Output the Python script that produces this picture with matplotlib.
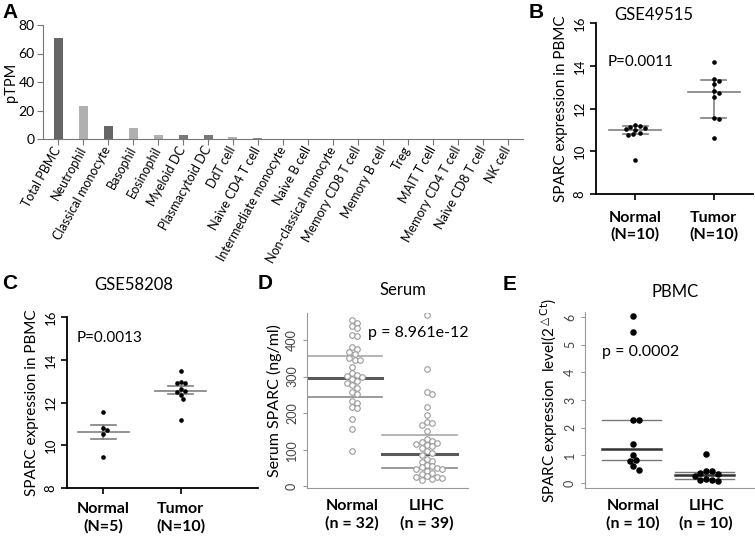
import numpy as np
import matplotlib
matplotlib.use('Agg')
import matplotlib.pyplot as plt

plt.rcParams['font.family'] = ['Lato', 'DejaVu Sans']

W, H = 755, 540

# ---------------- data ---------------- #
# A: SPARC expression in blood cell types (pTPM)
cells = ['Total PBMC', 'Neutrophil', 'Classical monocyte', 'Basophil', 'Eosinophil',
         'Myeloid DC', 'Plasmacytoid DC', 'DdT cell', 'Naive CD4 T cell',
         'Intermediate monocyte', 'Naive B cell', 'Non-classical monocyte',
         'Memory CD8 T cell', 'Memory B cell', 'Treg', 'MAIT T cell',
         'Memory CD4 T cell', 'Naive CD8 T cell', 'NK cell']
ptpm = [71, 23, 9, 8, 3, 3, 2.5, 1.5, 0.4, 0.3, 0.2, 0.2, 0.15, 0.1, 0.1, 0.1, 0.1, 0.1, 0.1]
shade = ['#666666', '#b0b0b0', '#666666', '#b0b0b0', '#b0b0b0', '#777777', '#777777',
         '#b0b0b0', '#888888', '#aaaaaa', '#aaaaaa', '#aaaaaa', '#aaaaaa', '#aaaaaa',
         '#aaaaaa', '#aaaaaa', '#aaaaaa', '#aaaaaa', '#aaaaaa']

# B: GSE49515 (median, IQR)
b_groups = ['Normal\n(N=10)', 'Tumor\n(N=10)']
b_normal = [11.0, 11.18, 11.08, 11.13, 11.22, 11.04, 10.8, 10.76, 10.85, 9.6]
b_tumor = [14.17, 13.37, 13.28, 13.14, 12.81, 12.72, 12.53, 11.55, 11.5, 10.62]
b_mid = [11.0, 12.77]
b_lo = [10.8, 11.55]
b_hi = [11.18, 13.33]

# C: GSE58208 (mean, SEM)
c_groups = ['Normal\n(N=5)', 'Tumor\n(N=10)']
c_normal = [11.55, 10.71, 10.8, 10.52, 9.45]
c_tumor = [13.47, 12.9, 12.9, 12.95, 12.63, 12.49, 12.53, 12.35, 12.16, 11.18]
c_mid = [10.62, 12.55]
c_lo = [10.29, 12.38]
c_hi = [10.94, 12.76]

# D: serum SPARC (ng/ml)
d_groups = ['Normal\n(n = 32)', 'LIHC\n(n = 39)']
d_normal = [455, 446, 438, 432, 414, 412, 380, 376, 368, 362, 352, 346, 344, 325, 310, 305,
            302, 298, 292, 288, 282, 276, 268, 258, 252, 232, 228, 218, 214, 183, 157, 97]
d_lihc = [468, 320, 257, 252, 218, 195, 176, 172, 168, 150, 128, 124, 120, 118, 115, 112,
          110, 104, 95, 90, 86, 74, 70, 66, 58, 55, 52, 50, 48, 46, 42, 35, 32, 28, 26,
          24, 22, 20, 18]
d_mid = [295, 87]
d_lo = [245, 49]
d_hi = [356, 140]

# E: PBMC qPCR
e_groups = ['Normal\n(n = 10)', 'LIHC\n(n = 10)']
e_normal = [6.05, 5.45, 2.28, 2.28, 1.41, 1.01, 0.82, 0.8, 0.62, 0.48]
e_lihc = [1.05, 0.45, 0.42, 0.38, 0.32, 0.25, 0.15, 0.12, 0.1, 0.08]
e_mid = [1.22, 0.29]
e_lo = [0.83, 0.14]
e_hi = [2.28, 0.41]


def px_axes(fig, left, top, right, bottom):
    return fig.add_axes([left / W, 1 - bottom / H, (right - left) / W, (bottom - top) / H])


def swarm(ax, x0, vals, d):
    '''simple beeswarm: returns x data coords so markers of diameter d px do not overlap'''
    vals = np.asarray(vals, dtype=float)
    pts = ax.transData.transform(np.column_stack([np.full(len(vals), x0), vals]))
    ypx = pts[:, 1]
    placed = []
    off = np.zeros(len(vals))
    for i in np.argsort(-ypx):
        best = 0.0
        for k in range(60):
            cands = [0.0] if k == 0 else [k * d * 0.5, -k * d * 0.5]
            hit = None
            for c in cands:
                if all((c - px) ** 2 + (ypx[i] - py) ** 2 >= (0.97 * d) ** 2 for px, py in placed):
                    hit = c
                    break
            if hit is not None:
                best = hit
                break
        placed.append((best, ypx[i]))
        off[i] = best
    return ax.transData.inverted().transform(np.column_stack([pts[:, 0] + off, ypx]))[:, 0]


def rot_yticks(ax, size, color):
    ax.tick_params(axis='y', labelsize=size, labelcolor=color)
    for lab in ax.get_yticklabels():
        lab.set_rotation(90)
        lab.set_va('center')
        lab.set_ha('right')


def group_labels(ax, groups, pad):
    ax.set_xticks([0, 1])
    ax.set_xticklabels(groups, fontsize=11.5, fontweight='bold', linespacing=1.25)
    ax.tick_params(axis='x', pad=pad)


fig = plt.figure(figsize=(W / 100, H / 100), dpi=100)

# ---------------- A ---------------- #
axA = px_axes(fig, 43, 25, 523, 139)
x = np.arange(len(cells))
axA.bar(x, ptpm, width=0.36, color=shade)
axA.set_xlim(-0.6, 18.6)
axA.set_ylim(0, 80)
axA.set_yticks([0, 20, 40, 60, 80])
axA.set_xticks(x)
axA.set_xticklabels(cells, rotation=61, ha='right', va='center', rotation_mode='anchor', fontsize=9)
axA.tick_params(axis='y', labelsize=10, length=4, color='#777777', pad=2)
axA.tick_params(axis='x', length=4, color='#777777', pad=2)
axA.set_ylabel('pTPM', fontsize=10.5)
axA.yaxis.set_label_coords(-0.052, 0.5)
for s in ['top', 'right']:
    axA.spines[s].set_visible(False)
for s in ['left', 'bottom']:
    axA.spines[s].set_color('#777777')

# ---------------- B & C (GraphPad style) ---------------- #
def dot_panel(ax, groups, series, mid, lo, hi, title, ptxt, tpos, ppos, ylab):
    ax.set_xlim(-0.5, 1.5)
    ax.set_ylim(8, 16)
    ax.set_yticks([8, 10, 12, 14, 16])
    group_labels(ax, groups, 8)
    for s in ['top', 'right']:
        ax.spines[s].set_visible(False)
    for s in ['left', 'bottom']:
        ax.spines[s].set_linewidth(1.3)
    ax.tick_params(axis='x', length=4, width=1.2)
    ax.tick_params(axis='y', length=4, width=1.2)
    rot_yticks(ax, 9.5, 'black')
    ax.set_ylabel(ylab, fontsize=11, labelpad=4)
    for i, vals in enumerate(series):
        ax.plot([i - 0.33, i + 0.33], [mid[i], mid[i]], color='#808080', lw=1.2, zorder=1)
        ax.plot([i - 0.16, i + 0.16], [lo[i], lo[i]], color='#808080', lw=1.2, zorder=1)
        ax.plot([i - 0.16, i + 0.16], [hi[i], hi[i]], color='#808080', lw=1.2, zorder=1)
        ax.plot([i, i], [lo[i], hi[i]], color='#808080', lw=1.2, zorder=1)
        xs = swarm(ax, i, vals, 4.8)
        ax.scatter(xs, vals, s=11, color='black', zorder=3, linewidths=0)
    ax.text(tpos[0], tpos[1], title, fontsize=12, ha='center', va='center', clip_on=False)
    ax.text(ppos[0], ppos[1], ptxt, fontsize=11, ha='left', va='center')


axB = px_axes(fig, 596, 23, 753, 194)
dot_panel(axB, b_groups, [b_normal, b_tumor], b_mid, b_lo, b_hi, 'GSE49515', 'P=0.0011',
          (0.23, 16.37), (-0.35, 14.17), 'SPARC expression in PBMC')

axC = px_axes(fig, 67, 317, 258, 488)
dot_panel(axC, c_groups, [c_normal, c_tumor], c_mid, c_lo, c_hi, 'GSE58208', 'P=0.0013',
          (0.39, 17.5), (-0.35, 15.0), 'SPARC expression in PBMC')
axC.set_xlim(-0.47, 2.0)
axC.tick_params(axis='x', pad=6)

# ---------------- D ---------------- #
axD = px_axes(fig, 307, 313, 468, 488)
axD.set_xlim(-0.6, 1.55)
axD.set_ylim(-5, 474)
axD.set_yticks([0, 100, 200, 300, 400])
group_labels(axD, d_groups, 8)
axD.tick_params(axis='x', length=0)
axD.tick_params(axis='y', length=3, color='#999999')
rot_yticks(axD, 9, '#444444')
for s in ['top', 'right']:
    axD.spines[s].set_visible(False)
for s in ['left', 'bottom']:
    axD.spines[s].set_color('#999999')
axD.set_ylabel('Serum SPARC (ng/ml)', fontsize=11.5, labelpad=3)
for i, vals in enumerate([d_normal, d_lihc]):
    axD.plot([i - 0.6, i + 0.4], [d_hi[i]] * 2, color='#a8a8a8', lw=1.2, zorder=1)
    axD.plot([i - 0.6, i + 0.4], [d_lo[i]] * 2, color='#8a8a8a', lw=1.2, zorder=1)
    axD.plot([i - 0.6, i + 0.4], [d_mid[i]] * 2, color='#5a5a5a', lw=2.2, zorder=1)
    xs = swarm(axD, i, vals, 5.2)
    axD.scatter(xs, vals, s=16, facecolor='white', edgecolor='#9a9a9a', linewidths=0.8, zorder=3)
axD.text(0.68, 537, 'Serum', fontsize=12, ha='center', va='center', clip_on=False)
axD.text(0.21, 419, 'p = 8.961e-12', fontsize=11.5, ha='left', va='center')

# ---------------- E ---------------- #
axE = px_axes(fig, 585, 312, 754, 488)
axE.set_xlim(-0.65, 1.65)
axE.set_ylim(-0.18, 6.18)
axE.set_yticks([0, 1, 2, 3, 4, 5, 6])
group_labels(axE, e_groups, 8)
axE.tick_params(axis='x', length=0)
axE.tick_params(axis='y', length=3, color='#999999')
rot_yticks(axE, 9, '#444444')
for s in ['top', 'right']:
    axE.spines[s].set_visible(False)
for s in ['left', 'bottom']:
    axE.spines[s].set_color('#999999')
axE.set_ylabel(r'SPARC expression  level(2$^{\triangle\mathrm{Ct}}$)', fontsize=11, labelpad=3)
for i, vals in enumerate([e_normal, e_lihc]):
    axE.plot([i - 0.42, i + 0.38], [e_hi[i]] * 2, color='#777777', lw=1.0, zorder=1)
    axE.plot([i - 0.42, i + 0.38], [e_lo[i]] * 2, color='#777777', lw=1.0, zorder=1)
    axE.plot([i - 0.42, i + 0.38], [e_mid[i]] * 2, color='#333333', lw=1.8, zorder=1)
    xs = swarm(axE, i, vals, 5.8)
    axE.scatter(xs, vals, s=22, color='black', linewidths=0, zorder=3)
axE.text(0.57, 6.9, 'PBMC', fontsize=12, ha='center', va='center', clip_on=False)
axE.text(-0.42, 4.73, 'p = 0.0002', fontsize=11.5, ha='left', va='center')

# panel letters
for lab, px, py in [('A', 2, 3), ('B', 529, 3), ('C', 2, 274), ('D', 258, 274), ('E', 503, 275)]:
    fig.text(px / W, 1 - py / H, lab, fontsize=15, fontweight='bold',
             family='Liberation Sans', ha='left', va='top')

fig.savefig('out.png', dpi=100)
